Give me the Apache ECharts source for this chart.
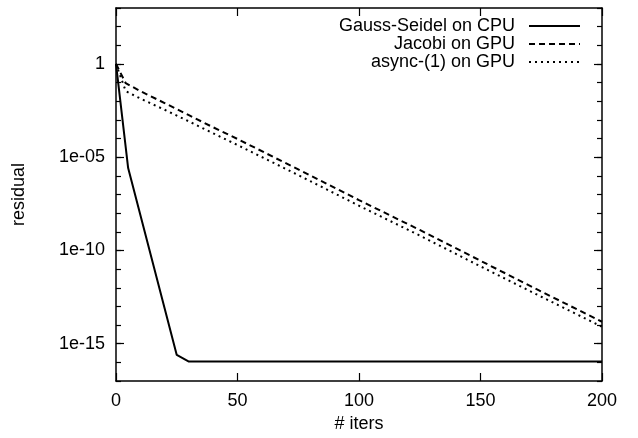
<!DOCTYPE html>
<html>
<head>
<meta charset="utf-8">
<script src="https://cdn.jsdelivr.net/npm/echarts@6/dist/echarts.min.js"></script>
<style>
html,body{margin:0;padding:0;background:#fff;}
#chart{width:638px;height:438px;}
</style>
</head>
<body>
<div id="chart"></div>
<script>
// ---- data ----
const seriesNames = ['Gauss-Seidel on CPU', 'Jacobi on GPU', 'async-(1) on GPU'];

const gsIters = [0, 5, 25, 30, 50, 100, 150, 200];
const gsResidual = [1, 2.6e-6, 2.5e-16, 1.1e-16, 1.1e-16, 1.1e-16, 1.1e-16, 1.1e-16];

const jacobiIters = [0, 4, 10, 20, 30, 40, 50, 75, 100, 125, 150, 175, 200];
const jacobiResidual = [1, 9.3e-2, 3.5e-2, 8e-3, 1.8e-3, 4e-4, 9.5e-5, 2.2e-6, 5e-8, 1.26e-9, 2.8e-11, 6.3e-13, 1.5e-14];

const asyncIters = [0, 4, 10, 20, 30, 40, 50, 75, 100, 125, 150, 175, 200];
const asyncResidual = [1, 3.5e-2, 1.4e-2, 3.5e-3, 8.3e-4, 1.9e-4, 4.5e-5, 1.1e-6, 2.5e-8, 6.3e-10, 1.4e-11, 3.3e-13, 8.1e-15];

const xTicks = [0, 50, 100, 150, 200];
const yLabelExps = [0, -5, -10, -15];
const yLabelTexts = ['1', '1e-05', '1e-10', '1e-15'];

// ---- chart ----
const FONT = 'Liberation Sans';
const FS = 18;
function pairs(xs, ys) { return xs.map((x, i) => [x, Math.log10(ys[i])]); }

const chart = echarts.init(document.getElementById('chart'), null, {renderer: 'canvas'});
const axisLine = {show: true, onZero: false, lineStyle: {color: '#000', width: 1.5}};
const yMin = -17, yMax = 3;

function yAxisMajor(pos, showLabel) {
  return {
    type: 'value', position: pos, min: yMin, max: yMax, interval: 1,
    axisLine: axisLine,
    axisTick: {show: true, inside: true, length: 8, lineStyle: {color: '#000', width: 1.2}, customValues: yLabelExps},
    axisLabel: {show: showLabel, customValues: yLabelExps, margin: 11, color: '#000', fontFamily: FONT, fontSize: FS,
      formatter: v => { const i = yLabelExps.indexOf(Math.round(v)); return i >= 0 ? yLabelTexts[i] : ''; }},
    splitLine: {show: false},
    name: showLabel ? 'residual' : '', nameLocation: 'middle', nameGap: 88, nameRotate: 90,
    nameTextStyle: {color: '#000', fontFamily: FONT, fontSize: FS}
  };
}
function yAxisMinor(pos) {
  return {
    type: 'value', position: pos, min: yMin, max: yMax, interval: 1,
    axisLine: {show: false, onZero: false},
    axisTick: {show: true, inside: true, length: 5, lineStyle: {color: '#000', width: 1.2}},
    axisLabel: {show: false}, splitLine: {show: false}
  };
}
function xAxisDef(pos, showLabel) {
  return {
    type: 'value', position: pos, min: 0, max: 200, interval: 50,
    axisLine: axisLine,
    axisTick: {show: true, inside: true, length: 8, lineStyle: {color: '#000', width: 1.2}},
    axisLabel: {show: showLabel, margin: 11, color: '#000', fontFamily: FONT, fontSize: FS},
    splitLine: {show: false},
    name: showLabel ? '# iters' : '', nameLocation: 'middle', nameGap: 34,
    nameTextStyle: {color: '#000', fontFamily: FONT, fontSize: FS}
  };
}

const lineBase = {type: 'line', xAxisIndex: 0, yAxisIndex: 0, showSymbol: false, symbol: 'none', animation: false};

chart.setOption({
  animation: false,
  backgroundColor: '#fff',
  grid: {left: 116, right: 36, top: 8, bottom: 57, containLabel: false},
  legend: {
    orient: 'vertical', right: 57, top: 17, align: 'right', padding: 0,
    itemWidth: 51, itemHeight: 14, itemGap: 0,
    itemStyle: {opacity: 0},
    textStyle: {color: '#000', fontFamily: FONT, fontSize: FS, padding: [0, 9, 0, 0]},
    data: seriesNames
  },
  xAxis: [xAxisDef('bottom', true), xAxisDef('top', false)],
  yAxis: [yAxisMajor('left', true), yAxisMajor('right', false), yAxisMinor('left'), yAxisMinor('right')],
  series: [
    Object.assign({}, lineBase, {name: seriesNames[0], data: pairs(gsIters, gsResidual),
      lineStyle: {color: '#000', width: 2, type: 'solid'}, itemStyle: {color: '#000'}}),
    Object.assign({}, lineBase, {name: seriesNames[1], data: pairs(jacobiIters, jacobiResidual),
      lineStyle: {color: '#000', width: 2, type: [6, 4]}, itemStyle: {color: '#000'}}),
    Object.assign({}, lineBase, {name: seriesNames[2], data: pairs(asyncIters, asyncResidual),
      lineStyle: {color: '#000', width: 2, type: [2, 4]}, itemStyle: {color: '#000'}})
  ]
});
</script>
</body>
</html>
